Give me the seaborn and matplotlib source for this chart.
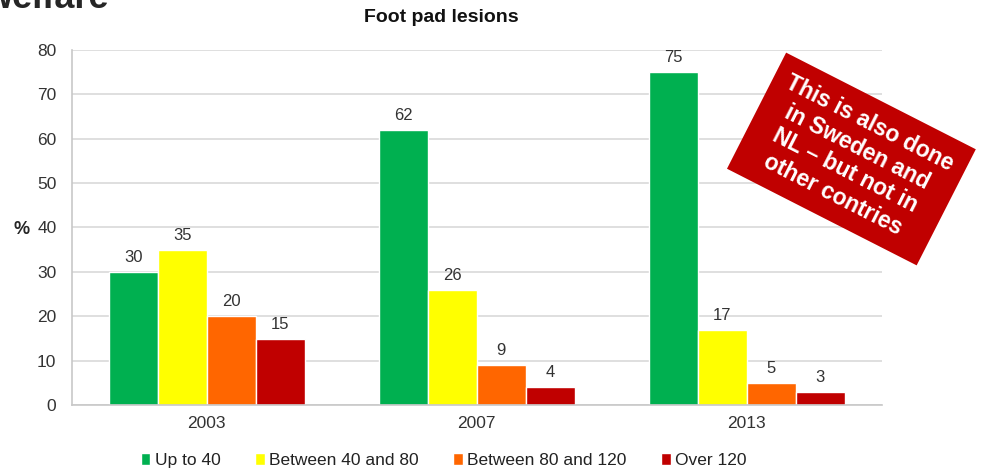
import matplotlib.pyplot as plt
import seaborn as sns
import pandas as pd

years = ['2003', '2007', '2013']
groups = ['Up to 40', 'Between 40 and 80', 'Between 80 and 120', 'Over 120']
up_to_40 = [30, 62, 75]
between_40_80 = [35, 26, 17]
between_80_120 = [20, 9, 5]
over_120 = [15, 4, 3]
colors = ['#00B050', '#FFFF00', '#FF6600', '#C00000']

rows = []
for g, vals in zip(groups, [up_to_40, between_40_80, between_80_120, over_120]):
    for y, v in zip(years, vals):
        rows.append({'year': y, 'group': g, 'value': v})
df = pd.DataFrame(rows)

sns.set_style('white')
plt.rcParams['font.family'] = ['Liberation Sans', 'DejaVu Sans']

fig = plt.figure(figsize=(9.82, 4.7), dpi=100)
ax = fig.add_axes([0.073, 0.138, 0.825, 0.756])

sns.barplot(data=df, x='year', y='value', hue='group', hue_order=groups,
            palette=colors, width=0.725, saturation=1, ax=ax, legend=True)

for c in ax.containers:
    ax.bar_label(c, fmt='%g', padding=5, fontsize=12, color='#333333')

ax.set_ylim(0, 80)
ax.set_xlim(-0.5, 2.5)
ax.set_yticks(range(0, 81, 10))
ax.yaxis.grid(True, color='#D9D9D9', linewidth=1.2)
ax.set_axisbelow(True)
for s in ['top', 'right']:
    ax.spines[s].set_visible(False)
for s in ['left', 'bottom']:
    ax.spines[s].set_color('#C8C8C8')
    ax.spines[s].set_linewidth(1.2)
ax.tick_params(axis='y', length=5, color='#C8C8C8', labelsize=12.5, labelcolor='#333333', pad=6)
ax.tick_params(axis='x', which='major', length=0, labelsize=12.5, labelcolor='#333333', pad=8)
ax.set_xticks([-0.5, 0.5, 1.5, 2.5], minor=True)
ax.tick_params(axis='x', which='minor', length=5, color='#C8C8C8')
ax.set_xlabel('')
ax.set_ylabel('')

fig.text(0.449, 1 - 18 / 470, 'Foot pad lesions', fontsize=14, fontweight='bold',
         ha='center', va='center', color='#111111')
fig.text(0.022, 1 - 230 / 470, '%', fontsize=13, fontweight='bold', ha='center', va='center')
fig.text(-0.016, 1 - 8 / 470, 'welfare', fontsize=26, fontweight='bold', ha='left', va='baseline')

handles, labels = ax.get_legend_handles_labels()
ax.legend(handles, labels, loc='center', bbox_to_anchor=(0.452, 0.02),
          bbox_transform=fig.transFigure, ncol=4,
          frameon=False, fontsize=12.5, handlelength=0.55, handleheight=0.7,
          handletextpad=0.25, columnspacing=2.0, labelcolor='#222222')

fig.text(0.867, 1 - 159 / 470, 'This is also done\nin Sweden and\nNL – but not in\nother contries',
         fontsize=16.5, fontweight='bold', color='white', ha='center', va='center',
         rotation=-27, rotation_mode='anchor', linespacing=1.2,
         bbox=dict(boxstyle='square,pad=0.6', facecolor='#C00000', edgecolor='none'))

fig.savefig('out.png', dpi=100)
